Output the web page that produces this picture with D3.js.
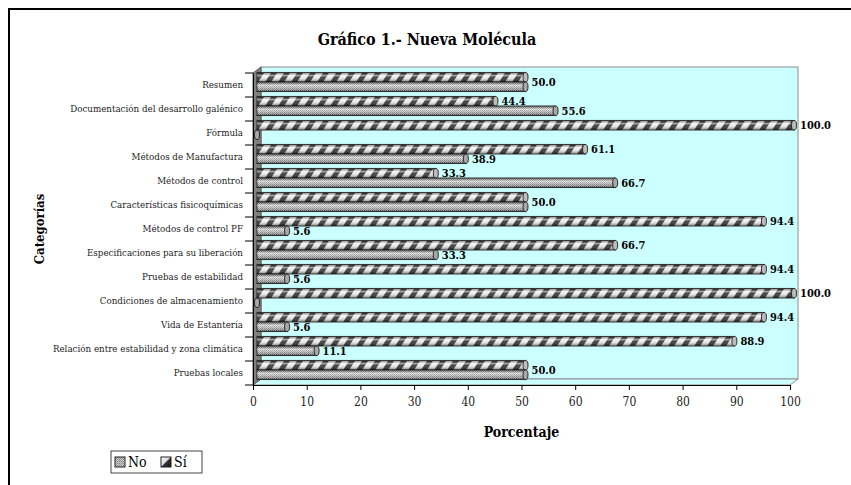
<!DOCTYPE html>
<html>
<head>
<meta charset="utf-8">
<script src="https://cdn.jsdelivr.net/npm/d3@7"></script>
<style>
  body { margin: 0; background: #fff; }
  svg text { font-family: "DejaVu Serif Condensed", "DejaVu Serif", serif; }
</style>
</head>
<body>
<div id="chart"></div>
<script>
// Data (top to bottom)
const categories = [
    "Resumen",
    "Documentación del desarrollo galénico",
    "Fórmula",
    "Métodos de Manufactura",
    "Métodos de control",
    "Características fisicoquímicas",
    "Métodos de control PF",
    "Especificaciones para su liberación",
    "Pruebas de estabilidad",
    "Condiciones de almacenamiento",
    "Vida de Estantería",
    "Relación entre estabilidad y zona climática",
    "Pruebas locales"
];
const siValues = [50.0, 44.4, 100.0, 61.1, 33.3, 50.0, 94.4, 66.7, 94.4, 100.0, 94.4, 88.9, 50.0];
const noValues = [50.0, 55.6, 0.0, 38.9, 66.7, 50.0, 5.6, 33.3, 5.6, 0.0, 5.6, 11.1, 50.0];
const seriesNames = ["Sí", "No"];
const xTicks = [0, 10, 20, 30, 40, 50, 60, 70, 80, 90, 100];

const rows = categories.map((c, i) => ({cat: c, "Sí": siValues[i], "No": noValues[i]}));

const W = 851, H = 485;
const plot = {left: 253, right: 790, top: 73, bottom: 385};
const depth = {dx: 8, dy: -6};       // 3D depth of the walls
const barShift = {dx: 4, dy: -3};    // bars sit in the middle of the depth

const svg = d3.select("#chart").append("svg")
    .attr("width", W)
    .attr("height", H);

// Outer frame
svg.append("rect")
    .attr("x", 9).attr("y", 9)
    .attr("width", 1000).attr("height", 1000)
    .attr("fill", "none")
    .attr("stroke", "#000")
    .attr("stroke-width", 2);

// Scales
const x = d3.scaleLinear().domain([0, 100]).range([plot.left, plot.right]);
const y = d3.scaleBand().domain(categories)
    .range([plot.top, plot.bottom])
    .paddingInner(0.2)
    .paddingOuter(0.1);
const ySub = d3.scaleBand().domain(seriesNames).range([0, y.bandwidth()]);

// Patterns and gradients
const defs = svg.append("defs");

const checker = defs.append("pattern")
    .attr("id", "checker")
    .attr("patternUnits", "userSpaceOnUse")
    .attr("width", 2).attr("height", 2);
checker.append("rect").attr("width", 2).attr("height", 2).attr("fill", "#d2d2d2");
checker.append("rect").attr("width", 1).attr("height", 1).attr("fill", "#7a7a7a");
checker.append("rect").attr("x", 1).attr("y", 1).attr("width", 1).attr("height", 1).attr("fill", "#9a9a9a");

const stripeY0 = y(categories[0]) + barShift.dy + ySub("Sí");
const bh = ySub.bandwidth();
const stripes = defs.append("pattern")
    .attr("id", "stripes")
    .attr("patternUnits", "userSpaceOnUse")
    .attr("x", 0).attr("y", stripeY0)
    .attr("width", 13).attr("height", y.step());
stripes.append("rect").attr("width", 13).attr("height", y.step()).attr("fill", "#e8e8e8");
stripes.append("polygon")
    .attr("points", [[1, bh], [7, bh], [13, 0], [7, 0]].map(p => p.join(",")).join(" "))
    .attr("fill", "#2e2e2e");

const shade = defs.append("linearGradient")
    .attr("id", "shade")
    .attr("x1", 0).attr("y1", 0).attr("x2", 0).attr("y2", 1);
shade.append("stop").attr("offset", "0%").attr("stop-color", "#000").attr("stop-opacity", 0.3);
shade.append("stop").attr("offset", "30%").attr("stop-color", "#fff").attr("stop-opacity", 0.55);
shade.append("stop").attr("offset", "55%").attr("stop-color", "#fff").attr("stop-opacity", 0.1);
shade.append("stop").attr("offset", "100%").attr("stop-color", "#000").attr("stop-opacity", 0.45);

const legendSi = defs.append("linearGradient")
    .attr("id", "legendSi")
    .attr("x1", 0).attr("y1", 0).attr("x2", 1).attr("y2", 1);
legendSi.append("stop").attr("offset", "0%").attr("stop-color", "#fff");
legendSi.append("stop").attr("offset", "45%").attr("stop-color", "#ddd");
legendSi.append("stop").attr("offset", "55%").attr("stop-color", "#333");
legendSi.append("stop").attr("offset", "100%").attr("stop-color", "#111");

// Walls
const backL = plot.left + depth.dx, backT = plot.top + depth.dy;
const backR = plot.right + depth.dx, backB = plot.bottom + depth.dy;

svg.append("rect")
    .attr("x", backL).attr("y", backT)
    .attr("width", backR - backL).attr("height", backB - backT)
    .attr("fill", "#ccffff")
    .attr("stroke", "#8c8c8c")
    .attr("stroke-width", 1);

svg.append("polygon")
    .attr("points", [[plot.left, plot.bottom], [plot.right, plot.bottom], [backR, backB], [backL, backB]]
        .map(p => p.join(",")).join(" "))
    .attr("fill", "#ccffff")
    .attr("stroke", "#8c8c8c")
    .attr("stroke-width", 1);

svg.append("polygon")
    .attr("points", [[plot.left, plot.top], [backL, backT], [backL, backB], [plot.left, plot.bottom]]
        .map(p => p.join(",")).join(" "))
    .attr("fill", "#808080")
    .attr("stroke", "#5a5a5a")
    .attr("stroke-width", 1);

// Bars (cylinders)
const bars = [];
rows.forEach(r => {
    seriesNames.forEach(s => {
        bars.push({cat: r.cat, series: s, value: r[s]});
    });
});

const gBars = svg.append("g").attr("transform", `translate(${barShift.dx},${barShift.dy})`);
const capR = 2.5;

const bar = gBars.selectAll("g.bar")
    .data(bars)
    .join("g")
    .attr("class", "bar")
    .attr("transform", d => `translate(0,${y(d.cat) + ySub(d.series)})`);

bar.filter(d => d.value > 0).append("rect")
    .attr("x", x(0))
    .attr("y", 0)
    .attr("width", d => x(d.value) - x(0))
    .attr("height", ySub.bandwidth())
    .attr("fill", d => d.series === "Sí" ? "url(#stripes)" : "url(#checker)")
    .attr("stroke", "#1a1a1a")
    .attr("stroke-width", 0.9);

bar.filter(d => d.value > 0).append("rect")
    .attr("x", x(0))
    .attr("y", 0.5)
    .attr("width", d => x(d.value) - x(0))
    .attr("height", ySub.bandwidth() - 1)
    .attr("fill", "url(#shade)");

bar.append("ellipse")
    .attr("cx", d => x(d.value))
    .attr("cy", ySub.bandwidth() / 2)
    .attr("rx", capR)
    .attr("ry", ySub.bandwidth() / 2)
    .attr("fill", d => d.series === "Sí" ? "#bdbdbd" : "#a8a8a8")
    .attr("stroke", "#1a1a1a")
    .attr("stroke-width", 0.9);

// Data labels
const labels = [];
rows.forEach(r => {
    if (r["Sí"] === r["No"]) {
        labels.push({cat: r.cat, value: r["Sí"], yy: y(r.cat) + y.bandwidth() / 2});
    } else {
        seriesNames.forEach(s => {
            if (r[s] > 0) labels.push({cat: r.cat, value: r[s], yy: y(r.cat) + ySub(s) + ySub.bandwidth() / 2});
        });
    }
});

gBars.selectAll("text.lbl")
    .data(labels)
    .join("text")
    .attr("class", "lbl")
    .attr("x", d => x(d.value) + 6)
    .attr("y", d => d.yy)
    .attr("dy", "0.35em")
    .attr("font-size", "11px")
    .attr("font-weight", "bold")
    .attr("fill", "#000")
    .text(d => d.value.toFixed(1));

// X axis
const xAxis = svg.append("g")
    .attr("transform", `translate(0,${plot.bottom})`)
    .call(d3.axisBottom(x).tickValues(xTicks).tickSize(5).tickSizeOuter(0).tickFormat(d3.format("d")));
xAxis.select(".domain").attr("stroke", "#000");
xAxis.selectAll("line").attr("stroke", "#000");
xAxis.selectAll("text")
    .attr("font-family", "DejaVu Serif Condensed, DejaVu Serif, serif")
    .attr("font-size", "12px")
    .attr("fill", "#222")
    .attr("dy", "1.05em");

// Y axis (front edge)
const yAxis = svg.append("g")
    .attr("transform", `translate(${plot.left},0)`)
    .call(d3.axisLeft(y).tickSize(0).tickPadding(10));
yAxis.select(".domain").attr("stroke", "#000");
yAxis.selectAll("text")
    .attr("font-family", "DejaVu Serif Condensed, DejaVu Serif, serif")
    .attr("font-size", "9.7px")
    .attr("fill", "#222");

// category separators
svg.append("g").selectAll("line")
    .data(d3.range(categories.length + 1))
    .join("line")
    .attr("x1", plot.left - 8)
    .attr("x2", plot.left)
    .attr("y1", i => plot.top + i * y.step())
    .attr("y2", i => plot.top + i * y.step())
    .attr("stroke", "#000");

// Titles
svg.append("text")
    .attr("x", 427).attr("y", 45)
    .attr("text-anchor", "middle")
    .attr("font-size", "16px")
    .attr("font-weight", "bold")
    .text("Gráfico 1.- Nueva Molécula");

svg.append("text")
    .attr("x", (plot.left + plot.right) / 2).attr("y", 437)
    .attr("text-anchor", "middle")
    .attr("font-size", "14px")
    .attr("font-weight", "bold")
    .text("Porcentaje");

svg.append("text")
    .attr("transform", `translate(44,${(plot.top + plot.bottom) / 2}) rotate(-90)`)
    .attr("text-anchor", "middle")
    .attr("font-size", "13px")
    .attr("font-weight", "bold")
    .text("Categorías");

// Legend
const legend = svg.append("g").attr("transform", "translate(111,451)");
legend.append("rect")
    .attr("width", 91).attr("height", 22)
    .attr("fill", "#fff")
    .attr("stroke", "#444");
const legendItems = [
    {name: "No", fill: "url(#checker)", x: 4},
    {name: "Sí", fill: "url(#legendSi)", x: 50}
];
legendItems.forEach(it => {
    legend.append("rect")
        .attr("x", it.x).attr("y", 6)
        .attr("width", 10).attr("height", 10)
        .attr("fill", it.fill)
        .attr("stroke", "#222");
    legend.append("text")
        .attr("x", it.x + 13).attr("y", 16)
        .attr("font-size", "14px")
        .text(it.name);
});
</script>
</body>
</html>
